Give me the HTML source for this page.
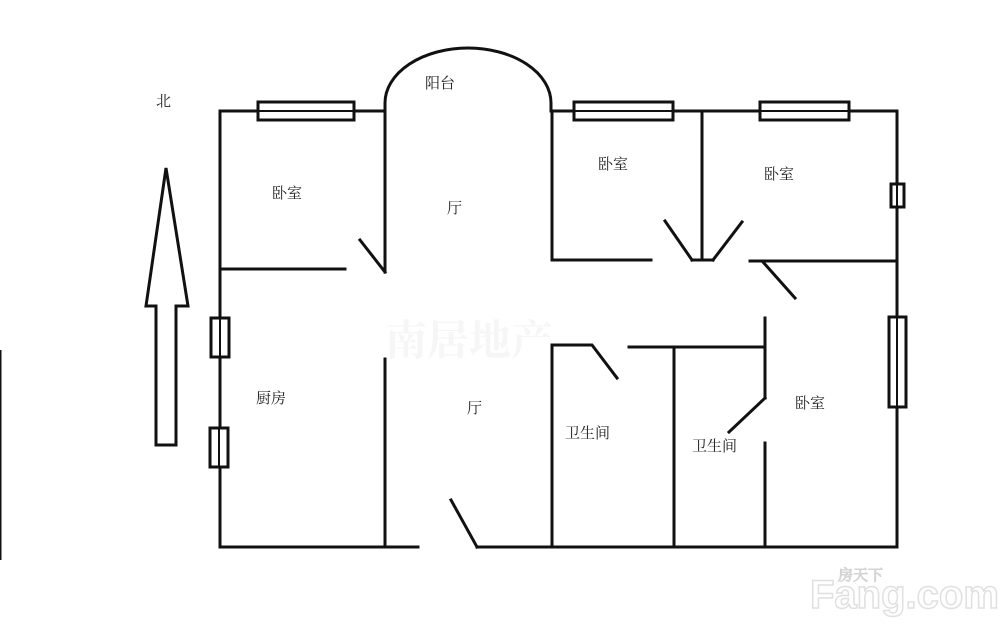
<!DOCTYPE html>
<html><head><meta charset="utf-8"><style>
html,body{margin:0;padding:0;background:#fff;}
svg{display:block}
text{font-family:"Liberation Serif","Noto Serif CJK SC",serif;fill:#222;font-size:15px}
</style></head><body>
<svg width="1000" height="637" viewBox="0 0 1000 637" xmlns="http://www.w3.org/2000/svg">
<rect width="1000" height="637" fill="#fff"/>
<g stroke="#111" stroke-width="3" fill="none" stroke-linecap="square">
<polyline points="385,111 220,111 220,547 418,547"/>
<line x1="477" y1="547" x2="897" y2="547"/>
<polyline points="552,111 897,111 897,547"/>
<path d="M385,111 L385,103 A83,55 0 0 1 551,103 L551,111"/>
<line x1="385" y1="111" x2="385" y2="272"/>
<line x1="360" y1="240" x2="385" y2="272"/>
<line x1="222" y1="269" x2="345" y2="269"/>
<line x1="385" y1="359" x2="385" y2="547"/>
<line x1="451" y1="500" x2="477" y2="547"/>
<polyline points="552,111 552,260 651,260"/>
<line x1="702" y1="111" x2="702" y2="260"/>
<line x1="692" y1="260" x2="713" y2="260"/>
<line x1="665" y1="221" x2="692" y2="260"/>
<line x1="742" y1="222" x2="713" y2="260"/>
<line x1="750" y1="261" x2="897" y2="261"/>
<line x1="763" y1="262" x2="795" y2="298"/>
<line x1="765" y1="318" x2="765" y2="398"/>
<line x1="765" y1="398" x2="729" y2="432"/>
<line x1="765" y1="443" x2="765" y2="547"/>
<line x1="629" y1="347" x2="636" y2="347"/>
<line x1="639" y1="347" x2="765" y2="347"/>
<line x1="674" y1="347" x2="674" y2="547"/>
<polyline points="552,547 552,345 592,345 617,378"/>
<polygon points="166,168 188,306 176,306 176,445 156,445 156,306 146,306"/>
</g>
<g stroke="#111" stroke-width="3" fill="#fff">
<rect x="258" y="102" width="96" height="18"/>
<rect x="574" y="102" width="99" height="18"/>
<rect x="760" y="102" width="89" height="18"/>
<rect x="211" y="318" width="18" height="39"/>
<rect x="210" y="428" width="18" height="39"/>
<rect x="891" y="184" width="13" height="23"/>
<rect x="889" y="317" width="17" height="90"/>
</g>
<g stroke="#111" stroke-width="2">
<line x1="258" y1="111" x2="354" y2="111"/>
<line x1="574" y1="111" x2="673" y2="111"/>
<line x1="760" y1="111" x2="849" y2="111"/>
<line x1="220" y1="318" x2="220" y2="357"/>
<line x1="219" y1="428" x2="219" y2="467"/>
<line x1="897" y1="184" x2="897" y2="207"/>
<line x1="897" y1="317" x2="897" y2="407"/>
</g>
<line x1="0" y1="350" x2="0" y2="560" stroke="#111" stroke-width="3"/>
<text x="156" y="106">北</text>
<text x="425" y="88">阳台</text>
<text x="272" y="198">卧室</text>
<text x="447" y="213">厅</text>
<text x="598" y="169">卧室</text>
<text x="764" y="179">卧室</text>
<text x="256" y="403">厨房</text>
<text x="467" y="413">厅</text>
<text x="565" y="438">卫生间</text>
<text x="692" y="451">卫生间</text>
<text x="795" y="408">卧室</text>
<text x="385" y="355" style="font-size:42px;fill:#f6f6f6;font-weight:bold">南居地产</text>
<text x="810" y="608" style="font-family:'Liberation Sans',sans-serif;font-size:40px;font-weight:bold;fill:#fff;stroke:#e0e0e0;stroke-width:1.5">Fang.com</text>
<text x="838" y="580" style="font-size:15px;fill:#fff;stroke:#d4d4d4;stroke-width:1">房天下</text>
</svg>
</body></html>
